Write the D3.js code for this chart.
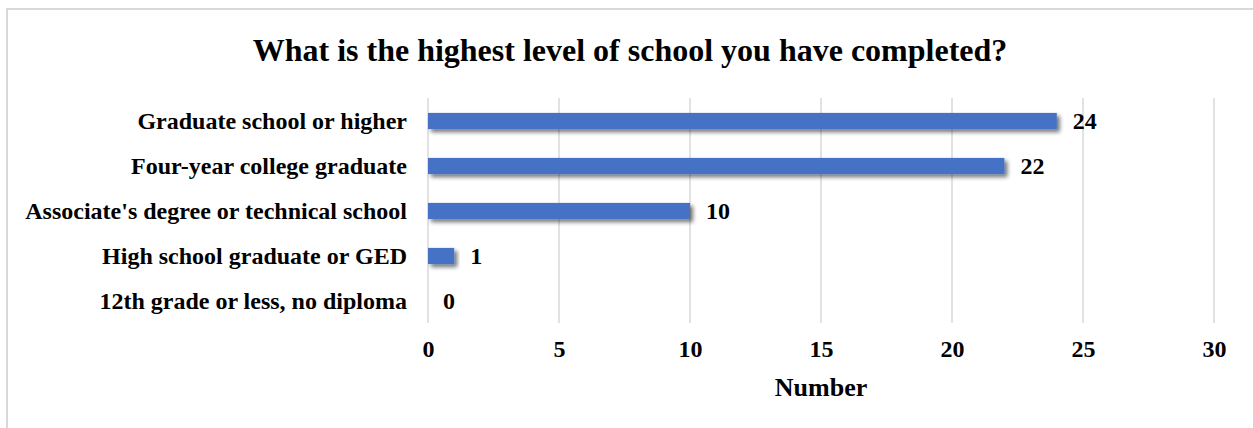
<!DOCTYPE html>
<html><head><meta charset="utf-8">
<script src="https://cdn.jsdelivr.net/npm/d3@7"></script>
<style>body{margin:0;background:#fff;} svg{display:block;}</style>
</head><body>
<svg id="chart" width="1253" height="428"></svg>
<script>
const categories = ["Graduate school or higher","Four-year college graduate","Associate's degree or technical school","High school graduate or GED","12th grade or less, no diploma"];
const values = [24,22,10,1,0];
const xTicks = [0,5,10,15,20,25,30];
const title = "What is the highest level of school you have completed?";
const xTitle = "Number";

const svg = d3.select("#chart");
const font = "'Liberation Serif','Times New Roman',serif";

// outer border (top and left visible)
svg.append("rect").attr("x",7).attr("y",9).attr("width",1260).attr("height",430)
  .attr("fill","#fff").attr("stroke","#d9d9d9").attr("stroke-width",2);

const defs = svg.append("defs");
const f = defs.append("filter").attr("id","shadow").attr("x","-10%").attr("y","-50%").attr("width","130%").attr("height","250%");
f.append("feGaussianBlur").attr("in","SourceAlpha").attr("stdDeviation",2).attr("result","b");
f.append("feOffset").attr("dx",3).attr("dy",3).attr("result","o");
f.append("feComponentTransfer").append("feFuncA").attr("type","linear").attr("slope",0.55);
const m = f.append("feMerge"); m.append("feMergeNode"); m.append("feMergeNode").attr("in","SourceGraphic");

const x = d3.scaleLinear().domain([0,30]).range([428,1214]);
const y = d3.scaleBand().domain(categories).range([98.5,323.5]).paddingInner(0.64).paddingOuter(0.32);

// gridlines
svg.append("g").selectAll("line").data(xTicks).join("line")
  .attr("x1",d=>x(d)).attr("x2",d=>x(d)).attr("y1",98).attr("y2",323)
  .attr("stroke","#d9d9d9").attr("stroke-width",1.5);

// title
svg.append("text").attr("x",630).attr("y",61).attr("text-anchor","middle")
  .attr("font-family",font).attr("font-weight","bold").attr("font-size",32).text(title);

// bars
svg.append("g").selectAll("rect").data(values).join("rect")
  .attr("x",x(0)).attr("y",(d,i)=>y(categories[i]))
  .attr("width",d=>x(d)-x(0)).attr("height",y.bandwidth())
  .attr("fill","#4472C4").attr("filter","url(#shadow)");

// value labels
svg.append("g").selectAll("text").data(values).join("text")
  .attr("x",d=>x(d)+(d===0?15:16)).attr("y",(d,i)=>y(categories[i])+y.bandwidth()/2)
  .attr("dy","0.35em").attr("font-family",font).attr("font-weight","bold").attr("font-size",24)
  .text(d=>d);

// category labels
const yAxis = d3.axisLeft(y).tickSize(0).tickPadding(21);
const ya = svg.append("g").attr("transform",`translate(${x(0)},0)`).call(yAxis);
ya.select(".domain").remove();
ya.selectAll("text").attr("font-family",font).attr("font-weight","bold").attr("font-size",24).attr("fill","#000");

// x axis
const xAxis = d3.axisBottom(x).tickValues(xTicks).tickSize(0).tickPadding(0);
const xa = svg.append("g").attr("transform","translate(0,340)").call(xAxis);
xa.select(".domain").remove();
xa.selectAll("text").attr("font-family",font).attr("font-weight","bold").attr("font-size",24).attr("fill","#000").attr("dy","0.7em");

svg.append("text").attr("x",821).attr("y",396).attr("text-anchor","middle")
  .attr("font-family",font).attr("font-weight","bold").attr("font-size",26).text(xTitle);
</script>
</body></html>
